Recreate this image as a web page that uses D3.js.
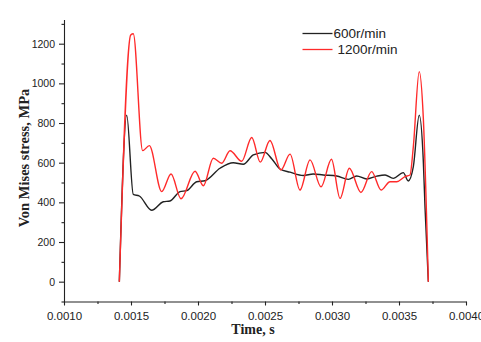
<!DOCTYPE html>
<html>
<head>
<meta charset="utf-8">
<script src="https://cdn.jsdelivr.net/npm/d3@7"></script>
<style>
	body { margin: 0; background: #fff; }
	svg { display: block; }
</style>
</head>
<body>
<svg id="chart"></svg>
<script>
// 600 r/min series (time in s, stress in MPa)
let t600 = [0.001413, 0.001468, 0.001517, 0.001562, 0.001654, 0.001741, 0.001791, 0.001866,
            0.001916, 0.001990, 0.002052, 0.002164, 0.002263, 0.002338, 0.002413, 0.002500,
            0.002550, 0.002612, 0.002687, 0.002786, 0.002860, 0.002935, 0.003035, 0.003122,
            0.003184, 0.003259, 0.003334, 0.003396, 0.003457, 0.003532, 0.003569, 0.003607,
            0.003651, 0.003681, 0.003694, 0.003719];
let s600 = [0, 840, 440, 432, 360, 403, 407, 454,
            459, 504, 509, 572, 600, 592, 639, 652,
            620, 568, 552, 535, 543, 538, 533, 516,
            533, 518, 532, 538, 521, 550, 508, 580,
            840, 614, 378, 0];

// 1200 r/min series
let t1200 = [0.001413, 0.001498, 0.001517, 0.001587, 0.001637, 0.001729, 0.001799, 0.001873,
             0.001978, 0.002040, 0.002114, 0.002177, 0.002239, 0.002326, 0.002401, 0.002465,
             0.002537, 0.002619, 0.002687, 0.002761, 0.002836, 0.002918, 0.002996, 0.003060,
             0.003129, 0.003216, 0.003296, 0.003366, 0.003433, 0.003483, 0.003545, 0.003582,
             0.003607, 0.003651, 0.003681, 0.003719];
let s1200 = [0, 1244, 1250, 661, 686, 454, 543, 418,
             557, 484, 622, 597, 660, 607, 727, 603,
             712, 563, 643, 462, 614, 478, 617, 420,
             572, 450, 555, 462, 504, 504, 530, 538,
             681, 1059, 832, 0];

let xTicks = [0.0010, 0.0015, 0.0020, 0.0025, 0.0030, 0.0035, 0.0040];
let xMinor = [0.00125, 0.00175, 0.00225, 0.00275, 0.00325, 0.00375];
let yTicks = [0, 200, 400, 600, 800, 1000, 1200];
let yMinor = [-100, 100, 300, 500, 700, 900, 1100, 1300];

let seriesNames = ["600r/min", "1200r/min"];
let seriesColors = ["#222222", "#ff2a2a"];

let width = 481, height = 342;

let svg = d3.select("#chart")
	    .attr("width", width)
	    .attr("height", height);

let x = d3.scaleLinear([0.001, 0.004], [64, 466]);
let y = d3.scaleLinear([-100, 1322], [301.5, 19.5]);

// minor ticks first, majors on top
svg.append("g")
   .attr("transform", "translate(64,0)")
   .call(d3.axisLeft(y).tickValues(yMinor).tickSize(2.5).tickSizeOuter(0).tickFormat(""))
   .call(g => g.select(".domain").remove());

svg.append("g")
   .attr("transform", "translate(0,301.5)")
   .call(d3.axisBottom(x).tickValues(xMinor).tickSize(2.5).tickSizeOuter(0).tickFormat(""))
   .call(g => g.select(".domain").remove());

let yAx = svg.append("g")
	     .attr("transform", "translate(64,0)")
	     .call(d3.axisLeft(y).tickValues(yTicks).tickSize(5).tickSizeOuter(0).tickPadding(4)
	             .tickFormat(d3.format("d")));
yAx.selectAll("text")
   .attr("font-family", "Liberation Sans, Arial, sans-serif")
   .attr("font-size", "10.5px")
   .attr("fill", "#222");

let xAx = svg.append("g")
	     .attr("transform", "translate(0,301.5)")
	     .call(d3.axisBottom(x).tickValues(xTicks).tickSize(4).tickSizeOuter(0).tickPadding(6)
	             .tickFormat(d3.format(".4f")));
xAx.selectAll("text")
   .attr("font-family", "Liberation Sans, Arial, sans-serif")
   .attr("font-size", "11.5px")
   .attr("fill", "#222");

svg.selectAll(".domain, .tick line")
   .attr("stroke", "#222")
   .attr("stroke-width", 1.1);

// axis titles
svg.append("text")
   .attr("transform", "translate(28.5,158) rotate(-90)")
   .attr("text-anchor", "middle")
   .attr("font-family", "Liberation Serif, Times New Roman, serif")
   .attr("font-weight", "bold")
   .attr("font-size", "14.5px")
   .attr("fill", "#222")
   .text("Von Mises stress, MPa");

svg.append("text")
   .attr("x", 253)
   .attr("y", 334)
   .attr("text-anchor", "middle")
   .attr("font-family", "Liberation Serif, Times New Roman, serif")
   .attr("font-weight", "bold")
   .attr("font-size", "14px")
   .attr("fill", "#222")
   .text("Time, s");

// curves
let line = d3.line()
	     .x(d => x(d[0]))
	     .y(d => y(d[1]))
	     .curve(d3.curveMonotoneX);

let series = [d3.zip(t600, s600), d3.zip(t1200, s1200)];

svg.append("g")
   .selectAll("path")
   .data(series)
   .join("path")
   .attr("fill", "none")
   .attr("stroke", (d, i) => seriesColors[i])
   .attr("stroke-width", 1.4)
   .attr("stroke-linejoin", "round")
   .attr("d", line);

// legend
let legend = svg.append("g")
		.selectAll("g")
		.data(seriesNames)
		.join("g")
		.attr("transform", (d, i) => `translate(302.5,${33.5 + i * 16})`);

legend.append("line")
      .attr("x1", 0)
      .attr("x2", 30)
      .attr("stroke", (d, i) => seriesColors[i])
      .attr("stroke-width", 1.3);

legend.append("text")
      .attr("x", (d, i) => i == 0 ? 31 : 35)
      .attr("dy", "0.35em")
      .attr("font-family", "Liberation Sans, Arial, sans-serif")
      .attr("font-size", "13.5px")
      .attr("fill", "#222")
      .text(d => d);
</script>
</body>
</html>
